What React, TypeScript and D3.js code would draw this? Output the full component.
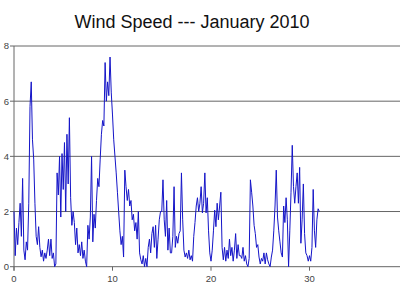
import React from "react";
import * as d3 from "d3";

const title = "Wind Speed --- January 2010";
const yTicks = [0, 2, 4, 6, 8];
const xTicks = [0, 10, 20, 30];
const samplesPerDay = 8;

// wind speed, 3-hourly samples, Jan 1 .. Jan 31
const windSpeed = [
  2.0, 0.4, 1.4, 0.8, 1.6, 2.3, 1.1, 3.2,
  0.6, 0.25, 0.9, 0.6, 2.3, 5.8, 6.7, 4.6,
  3.9, 2.3, 1.1, 0.8, 1.45, 0.7, 0.36, 0.6,
  0.2, 0.5, 0.3, 0.6, 1.0, 0.4, 1.0, 0.3,
  0.5, 0.0, 0.1, 3.4, 2.6, 4.0, 1.8, 4.1,
  2.8, 4.5, 2.0, 4.8, 3.0, 5.4, 2.5, 1.5,
  2.0, 1.6, 0.8, 1.4, 0.5, 0.8, 0.4, 0.9,
  0.3, 0.6, 0.2, 0.0, 1.5, 1.0, 1.8, 4.0,
  0.9, 1.9, 1.4, 2.4, 3.2, 2.9, 3.9, 4.8,
  5.3, 5.1, 7.4, 6.0, 6.7, 6.2, 7.6, 6.3,
  5.5, 4.6, 4.0, 3.4, 2.7, 2.0, 1.3, 0.8,
  1.1, 0.35, 3.5, 2.9, 2.4, 2.8, 2.2, 2.4,
  1.7, 1.9, 1.3, 1.6, 1.0, 2.0, 0.5, 0.25,
  0.1, 0.4, 0.0, 0.3, 0.0, 0.7, 1.0, 0.5,
  1.2, 1.45, 0.7, 1.5, 0.3, 1.0, 1.7, 2.0,
  2.0, 3.15, 1.7, 1.1, 2.4, 0.6, 1.4, 0.5,
  0.5, 1.1, 2.9, 0.7, 1.1, 0.85, 1.2, 1.3,
  3.4, 1.7, 0.6, 0.35, 0.5, 0.3, 0.6, 0.25,
  0.4, 0.2, 1.1, 1.6, 2.2, 2.5, 2.0, 2.3,
  2.9, 1.95, 2.3, 3.4, 1.95, 2.5, 1.3, 0.5,
  0.2, 0.6, 1.3, 2.05, 1.45, 2.3, 1.7, 2.2,
  2.7, 0.7, 0.25, 0.7, 0.2, 0.6, 0.3, 1.0,
  0.4, 0.7, 0.2, 0.6, 1.2, 0.3, 0.8, 0.4,
  0.4, 0.3, 0.7, 0.2, 0.4, 0.1, 0.0, 0.3,
  3.15, 2.7, 2.2, 1.5, 1.2, 0.7, 0.8, 0.35,
  0.1, 0.3, 0.2, 0.5, 0.1, 0.5, 0.25, 0.1,
  0.0, 0.35, 0.6, 1.3, 2.2, 3.5, 1.8, 1.3,
  0.9, 0.5, 0.35, 2.2, 1.6, 2.5, 1.7, 0.0,
  1.3, 2.7, 4.4, 2.9, 2.3, 2.9, 3.4, 2.3,
  3.6, 0.85, 1.7, 3.0, 1.2, 0.5, 0.4, 0.2,
  0.4, 0.2, 0.7, 2.8, 1.3, 0.7, 1.7, 2.1,
  2.0,
];

const W = 400;
const H = 300;

export default function App() {
  const x = d3.scaleLinear().domain([0, 40]).range([14, 408]);
  const y = d3.scaleLinear().domain([0, 8]).range([266.7, 46]);
  const line = d3
    .line<number>()
    .x((_, i) => x(i / samplesPerDay))
    .y((d) => y(d));

  return (
    <svg
      width={W}
      height={H}
      style={{ position: "absolute", left: 0, top: 0, background: "#fff" }}
      fontFamily="'Liberation Sans', Arial, sans-serif"
    >
      <rect x={0} y={0} width={W} height={H} fill="#fff" />
      <text x={192} y={28} fontSize={18} textAnchor="middle" fill="#111">
        {title}
      </text>
      {yTicks.map((t) => (
        <g key={"y" + t}>
          <line x1={x(0)} x2={W} y1={y(t)} y2={y(t)} stroke="#666" strokeWidth={1} />
          <line x1={10} x2={x(0)} y1={y(t)} y2={y(t)} stroke="#666" strokeWidth={1} />
          <text x={9} y={y(t)} dy="0.35em" fontSize={9.5} textAnchor="end" fill="#444">
            {t}
          </text>
        </g>
      ))}
      <line x1={x(0)} x2={x(0)} y1={y(8)} y2={y(0) + 4} stroke="#666" strokeWidth={1} />
      {xTicks.map((t) => (
        <g key={"x" + t}>
          <line x1={x(t)} x2={x(t)} y1={y(0)} y2={y(0) + 4} stroke="#666" strokeWidth={1} />
          <text x={x(t)} y={282} fontSize={9.5} textAnchor="middle" fill="#444">
            {t}
          </text>
        </g>
      ))}
      <path d={line(windSpeed) || ""} fill="none" stroke="#1515c8" strokeWidth={1} />
    </svg>
  );
}
